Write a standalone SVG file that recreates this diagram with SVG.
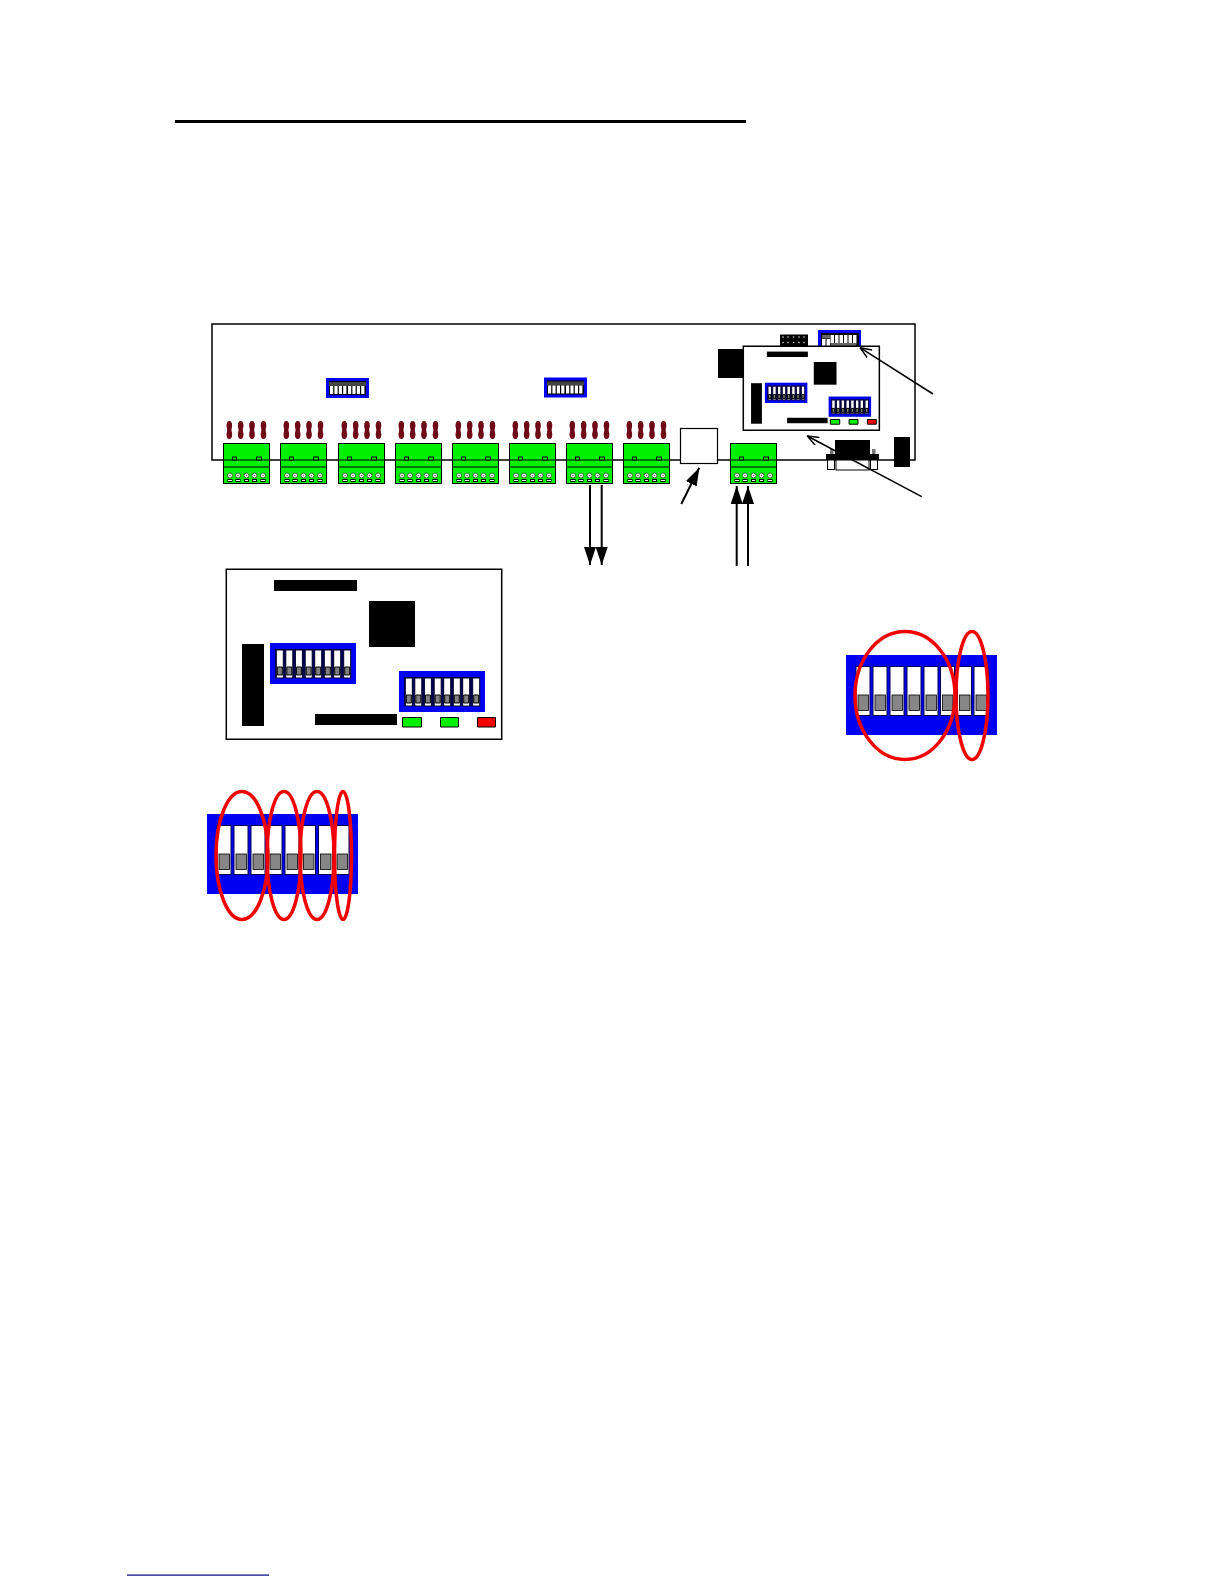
<svg xmlns="http://www.w3.org/2000/svg" xmlns:xlink="http://www.w3.org/1999/xlink" width="1224" height="1584" viewBox="0 0 1224 1584">
<style>
.k{fill:#000}
.w{fill:#fff;stroke:#000;stroke-width:1.5;vector-effect:non-scaling-stroke}
.b{fill:#0000f0}
.gn{fill:#00f000;stroke:#000;stroke-width:1;vector-effect:non-scaling-stroke}
.rd{fill:#f00000;stroke:#000;stroke-width:1;vector-effect:non-scaling-stroke}
.sw{fill:#fff;stroke:#000030;stroke-width:1;vector-effect:non-scaling-stroke}
.gy{fill:#808080;stroke:#000;stroke-width:1;vector-effect:non-scaling-stroke}
.bs{fill:#fff;stroke:#000050;stroke-width:1}
.bg{fill:#868686;stroke:#000;stroke-width:.8}
.ell{fill:none;stroke:#f00000;stroke-width:3.5}
.conn line{stroke:#000;stroke-width:2}
.thin line{stroke:#000;stroke-width:1.5}
.tw{fill:#00f000;stroke:#000;stroke-width:1}
.ln{stroke:#000;stroke-width:1;fill:none}
.sc{fill:#fff;stroke:#2a6a2a;stroke-width:1}
.dot{fill:#666}
.sr{fill:#fff;stroke:#000;stroke-width:1}
.jp{fill:#6e0a18}
</style>
<defs>
<g id="term">
<rect class="tw" x="0.500" y="0.500" width="46" height="40"/>
<line class="ln" x1="0" y1="17" x2="47" y2="17"/>
<line class="ln" x1="0" y1="24" x2="47" y2="24"/>
<rect class="tw" x="9.500" y="14" width="4" height="3"/>
<rect class="tw" x="33.500" y="14" width="5" height="3"/>
<circle class="sc" cx="7" cy="32.500" r="2.500"/><circle class="sc" cx="15" cy="32.500" r="2.500"/><circle class="sc" cx="23.500" cy="32.500" r="2.500"/><circle class="sc" cx="31.500" cy="32.500" r="2.500"/><circle class="sc" cx="40" cy="32.500" r="2.500"/>
<circle class="dot" cx="7" cy="32.500" r=".8"/><circle class="dot" cx="15" cy="32.500" r=".8"/><circle class="dot" cx="23.500" cy="32.500" r=".8"/><circle class="dot" cx="31.500" cy="32.500" r=".8"/><circle class="dot" cx="40" cy="32.500" r=".8"/>
<rect class="sr" x="5" y="36.500" width="4" height="2"/><rect class="sr" x="13" y="36.500" width="4" height="2"/><rect class="sr" x="21.500" y="36.500" width="4" height="2"/><rect class="sr" x="29.500" y="36.500" width="4" height="2"/><rect class="sr" x="38" y="36.500" width="4" height="2"/>
</g>
<g id="j1"><rect class="jp" x="-2.200" y="0" width="4.400" height="18" rx="2.200"/><ellipse class="jp" cx="0" cy="4.500" rx="2.800" ry="4"/><ellipse class="jp" cx="0" cy="13.500" rx="2.800" ry="4"/></g>
<g id="jump"><use xlink:href="#j1" x="6"/><use xlink:href="#j1" x="17.400"/><use xlink:href="#j1" x="28.700"/><use xlink:href="#j1" x="40.200"/></g>
<g id="sdip">
<rect class="b" x="0" y="0" width="43" height="20"/>
<rect class="k" x="3" y="3" width="37" height="14"/>
<rect x="3" y="4" width="37" height="4" fill="#444"/>
<g fill="#fff"><rect x="4" y="8" width="3.200" height="8"/><rect x="8.400" y="8" width="3.200" height="8"/><rect x="12.800" y="8" width="3.200" height="8"/><rect x="17.200" y="8" width="3.200" height="8"/><rect x="22" y="8" width="3.200" height="8"/><rect x="26.400" y="8" width="3.200" height="8"/><rect x="30.800" y="8" width="3.200" height="8"/><rect x="35.200" y="8" width="3.200" height="8"/></g>
</g>
<g id="msw"><rect class="sw" x="0" y="0" width="7" height="28"/><rect class="gy" x="1" y="17" width="5" height="8"/></g>
<g id="mdip">
<rect class="b" x="0" y="0" width="86" height="41"/>
<rect x="5" y="6" width="76" height="29" fill="#000050"/>
<use xlink:href="#msw" x="6.300" y="7"/><use xlink:href="#msw" x="15.800" y="7"/><use xlink:href="#msw" x="25.400" y="7"/><use xlink:href="#msw" x="35.200" y="7"/><use xlink:href="#msw" x="44.700" y="7"/><use xlink:href="#msw" x="54.300" y="7"/><use xlink:href="#msw" x="63.700" y="7"/><use xlink:href="#msw" x="73.700" y="7"/>
</g>
<g id="module">
<rect class="w" x="226.300" y="569.300" width="275.400" height="170"/>
<rect class="k" x="274" y="580" width="83" height="11"/>
<rect class="k" x="369" y="601" width="46" height="46"/>
<rect class="k" x="242" y="644" width="22" height="82"/>
<use xlink:href="#mdip" x="270" y="643"/>
<use xlink:href="#mdip" x="399" y="671"/>
<rect class="k" x="315" y="714" width="82" height="11"/>
<rect class="gn" x="402.500" y="717.500" width="19" height="9.500"/>
<rect class="gn" x="440.500" y="717.500" width="18" height="9.500"/>
<rect class="rd" x="477.500" y="717.500" width="18" height="9.500"/>
</g>
<g id="bsw"><rect class="bs" x="-0.500" y="-0.500" width="14" height="49"/><rect class="bg" x="1.500" y="28" width="10.500" height="15.500"/></g>
<g id="bdip">
<rect class="b" x="0" y="0" width="151" height="80"/>
<use xlink:href="#bsw" x="10.500" y="12"/><use xlink:href="#bsw" x="27.500" y="12"/><use xlink:href="#bsw" x="44.500" y="12"/><use xlink:href="#bsw" x="61.500" y="12"/><use xlink:href="#bsw" x="78.500" y="12"/><use xlink:href="#bsw" x="95" y="12"/><use xlink:href="#bsw" x="112" y="12"/><use xlink:href="#bsw" x="128.500" y="12"/>
</g>
<marker id="fh" viewBox="0 0 18 12" refX="18" refY="6" markerUnits="userSpaceOnUse" markerWidth="18" markerHeight="12" orient="auto"><path d="M0 0L18 6L0 12Z" fill="#000"/></marker>
<marker id="oh" viewBox="0 0 12 10" refX="11.500" refY="5" markerUnits="userSpaceOnUse" markerWidth="12" markerHeight="10" orient="auto"><path d="M0 0.500L11.500 5L0 9.500" fill="none" stroke="#000" stroke-width="1.500"/></marker>
</defs>

<rect id="title-rule" x="175" y="120" width="571" height="3" fill="#000"/>
<rect id="footer-rule" x="127" y="1574.500" width="142" height="1.200" fill="#000080"/>

<g id="main-board">
<rect x="212" y="324" width="703" height="136" fill="#fff" stroke="#000" stroke-width="1.500"/>
<use xlink:href="#sdip" x="326" y="378"/>
<use xlink:href="#sdip" x="544" y="377.500"/>
</g>

<g id="top-dip">
<rect class="b" x="818" y="330" width="43" height="17"/>
<rect class="k" x="821" y="333" width="38" height="14"/>
<g fill="#fff"><rect x="822" y="339" width="3.500" height="8"/><rect x="826.500" y="339" width="3.500" height="8"/><rect x="830.500" y="335" width="3.500" height="8"/><rect x="835" y="335" width="3.500" height="8"/><rect x="839.500" y="335" width="3.500" height="8"/><rect x="844" y="335" width="3.500" height="8"/><rect x="848.500" y="335" width="3.500" height="8"/><rect x="853" y="335" width="3.500" height="8"/></g>
<rect x="822" y="335" width="8" height="3.500" fill="#666"/>
<rect x="830.500" y="343" width="26" height="3" fill="#666"/>
</g>
<g id="header">
<rect class="k" x="780" y="334.500" width="28" height="11.500"/>
<g fill="#ddd"><circle cx="783" cy="337" r=".8"/><circle cx="788" cy="337" r=".8"/><circle cx="793.500" cy="337" r=".8"/><circle cx="799" cy="337" r=".8"/><circle cx="804" cy="337" r=".8"/><circle cx="783" cy="342.500" r=".8"/><circle cx="788" cy="342.500" r=".8"/><circle cx="793.500" cy="342.500" r=".8"/><circle cx="799" cy="342.500" r=".8"/><circle cx="804" cy="342.500" r=".8"/></g>
</g>
<rect id="block-left" class="k" x="718" y="349" width="26" height="29"/>
<g id="small-module"><use xlink:href="#module" transform="translate(743.300 346.300) scale(.494) translate(-226.300 -569.300)"/></g>

<g id="db9">
<rect x="836" y="460" width="33" height="10" fill="#fff" stroke="#000"/>
<rect x="827.500" y="460" width="7" height="9.500" fill="#fff" stroke="#000"/>
<rect x="870.500" y="460" width="7" height="9.500" fill="#fff" stroke="#000"/>
<rect x="830" y="449" width="3.500" height="5" fill="#777"/>
<rect x="872" y="449" width="3.500" height="5" fill="#777"/>
<rect class="k" x="826" y="454" width="53" height="6"/>
<rect class="k" x="835" y="440" width="35" height="20"/>
</g>
<rect id="block-right" class="k" x="894" y="437" width="16" height="30"/>
<rect id="white-box" x="680.500" y="428.500" width="37" height="35" fill="#fff" stroke="#000" stroke-width="1.200"/>

<g id="t1"><use xlink:href="#jump" x="223.300" y="421"/><use xlink:href="#term" x="223" y="443"/></g>
<g id="t2"><use xlink:href="#jump" x="280.300" y="421"/><use xlink:href="#term" x="280" y="443"/></g>
<g id="t3"><use xlink:href="#jump" x="338.300" y="421"/><use xlink:href="#term" x="338" y="443"/></g>
<g id="t4"><use xlink:href="#jump" x="395.300" y="421"/><use xlink:href="#term" x="395" y="443"/></g>
<g id="t5"><use xlink:href="#jump" x="452.300" y="421"/><use xlink:href="#term" x="452" y="443"/></g>
<g id="t6"><use xlink:href="#jump" x="509.300" y="421"/><use xlink:href="#term" x="509" y="443"/></g>
<g id="t7"><use xlink:href="#jump" x="566.300" y="421"/><use xlink:href="#term" x="566" y="443"/></g>
<g id="t8"><use xlink:href="#jump" x="623.300" y="421"/><use xlink:href="#term" x="623" y="443"/></g>
<g id="t9"><use xlink:href="#term" x="730" y="443"/></g>

<g id="large-module"><use xlink:href="#module"/></g>

<g id="dip-detail-a">
<use xlink:href="#bdip" x="846" y="655"/>
<ellipse class="ell" cx="905" cy="695.500" rx="50" ry="64"/>
<ellipse class="ell" cx="972" cy="695.500" rx="16" ry="64"/>
</g>
<g id="dip-detail-b">
<use xlink:href="#bdip" x="207" y="814"/>
<ellipse class="ell" cx="242" cy="855.500" rx="26" ry="64"/>
<ellipse class="ell" cx="284" cy="855.500" rx="17" ry="64"/>
<ellipse class="ell" cx="317" cy="855.500" rx="17" ry="64"/>
<ellipse class="ell" cx="343" cy="855.500" rx="8.500" ry="64"/>
</g>

<g id="connectors">
<g class="conn">
<line x1="590" y1="485" x2="590" y2="565" marker-end="url(#fh)"/>
<line x1="601.700" y1="485" x2="601.700" y2="565" marker-end="url(#fh)"/>
<line x1="736.700" y1="566" x2="736.700" y2="486" marker-end="url(#fh)"/>
<line x1="748" y1="566" x2="748" y2="486" marker-end="url(#fh)"/>
<line x1="681.300" y1="504" x2="699.300" y2="467.700" marker-end="url(#fh)"/>
</g>
<g class="thin">
<line x1="933" y1="394" x2="860" y2="347.700" marker-end="url(#oh)"/>
<line x1="921.700" y1="496.700" x2="807.300" y2="436" marker-end="url(#oh)"/>
</g>
</g>
</svg>
